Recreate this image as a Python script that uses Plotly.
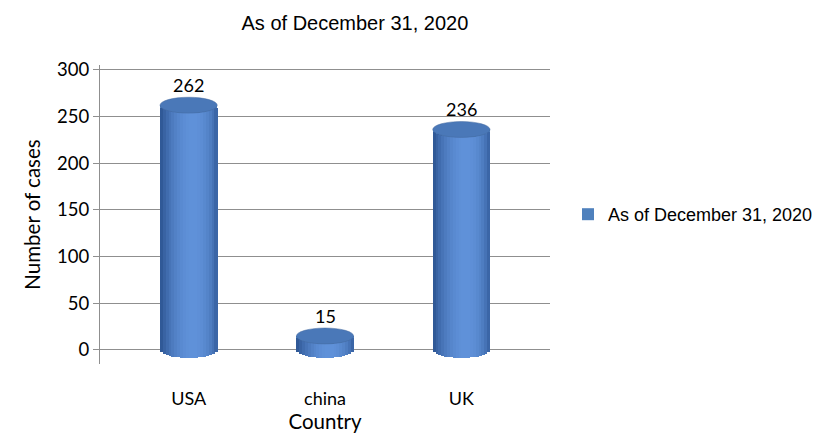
import math
import plotly.graph_objects as go

# ---- data ----
countries = ["USA", "china", "UK"]
cases = [262, 15, 236]
series_name = "As of December 31, 2020"
y_ticks = [0, 50, 100, 150, 200, 250, 300]

# ---- style ----
xpos = list(range(len(countries)))
bar_w = 0.42          # cylinder width in category units
ell_h = 8.5           # half height of the end ellipses in y units
n_strips = 20
dark = (46, 86, 148)
light = (96, 146, 218)
LABEL_FONT = "Lato, Open Sans, sans-serif"
ARIAL = "Liberation Sans, Arial, sans-serif"

fig = go.Figure()

# base bar (legend entry)
fig.add_trace(go.Bar(
    x=xpos, y=cases, width=bar_w, name=series_name,
    marker=dict(color="#4f81bd", line=dict(width=0)),
    showlegend=True, hoverinfo="skip",
))

# cylinder side shading strips
for j in range(n_strips):
    u = -1 + (2 * j + 1) / n_strips
    theta = math.asin(u)
    s = math.sqrt(max(0.0, 1 - u * u))
    lit = max(0.0, math.cos(theta - 0.15)) ** 1.6
    col = tuple(int(dark[k] + (light[k] - dark[k]) * lit) for k in range(3))
    fig.add_trace(go.Bar(
        x=xpos, y=cases, base=[-ell_h * s] * len(cases),
        width=bar_w / n_strips + 0.002,
        offset=-bar_w / 2 + j * bar_w / n_strips,
        marker=dict(color="rgb(%d,%d,%d)" % col, line=dict(width=0)),
        showlegend=False, hoverinfo="skip",
    ))

# top caps and value labels
for i, v in enumerate(cases):
    fig.add_shape(type="circle", xref="x", yref="y",
                  x0=xpos[i] - bar_w / 2, x1=xpos[i] + bar_w / 2,
                  y0=v - ell_h, y1=v + ell_h,
                  fillcolor="#4a78b8", line=dict(color="#42699f", width=0.5),
                  layer="above")
    fig.add_annotation(x=xpos[i], y=v, text=str(v), showarrow=False,
                       yshift=20, font=dict(family=LABEL_FONT, size=18, color="#000"))

fig.update_layout(
    width=824, height=439,
    barmode="overlay", bargap=0,
    paper_bgcolor="white", plot_bgcolor="white",
    margin=dict(l=92, r=282, t=57, b=83),
    title=dict(text=series_name, x=0.421, xanchor="center",
               y=0.982, yanchor="top",
               font=dict(family=ARIAL, size=20, color="#000")),
    legend=dict(x=1.04, y=0.5, xanchor="left", yanchor="middle",
                font=dict(family=ARIAL, size=18, color="#000"),
                bgcolor="rgba(0,0,0,0)"),
    hovermode=False,
    xaxis=dict(
        range=[-0.65, 2.65], tickmode="array", tickvals=xpos, ticktext=countries,
        showgrid=False, zeroline=False, showline=False, ticks="",
        tickfont=dict(family=LABEL_FONT, size=18, color="#000"),
        title=dict(text="Country", standoff=4,
                   font=dict(family=LABEL_FONT, size=20.5, color="#000")),
        ticklabelstandoff=22,
    ),
    yaxis=dict(
        range=[-15, 305], tickmode="array", tickvals=y_ticks,
        showgrid=True, gridcolor="#8f8f8f", gridwidth=1,
        zeroline=False, showline=True, linecolor="#8f8f8f", linewidth=1,
        ticks="outside", ticklen=6, tickcolor="#8f8f8f",
        tickfont=dict(family=LABEL_FONT, size=18.5, color="#000"),
        title=dict(text="Number of cases", standoff=10,
                   font=dict(family=LABEL_FONT, size=20.5, color="#000")),
    ),
)

fig.write_html("out.html")
